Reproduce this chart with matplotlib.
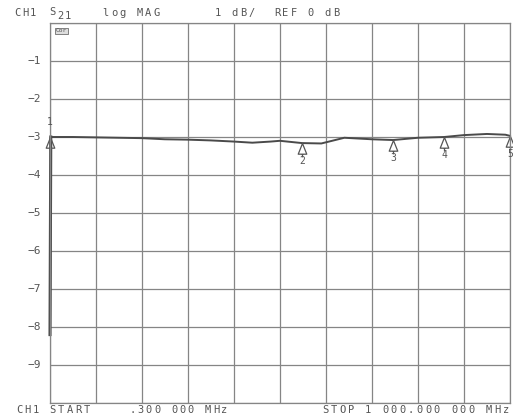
import numpy as np
import matplotlib.pyplot as plt
from matplotlib.path import Path

# trace (MHz, dB)
freq_mhz = [0.3, 2, 50, 100, 150, 200, 250, 300, 350, 400, 440, 480, 500,
            548, 590, 640, 700, 746, 800, 857, 900, 950, 990, 1000]
s21_db = [-8.2, -3.0, -3.0, -3.01, -3.02, -3.03, -3.06, -3.07, -3.09, -3.12,
          -3.15, -3.12, -3.10, -3.16, -3.17, -3.02, -3.06, -3.08, -3.02,
          -3.0, -2.95, -2.92, -2.94, -2.97]
marker_freq = [0.3, 548, 746, 857, 1000]
marker_db = [-3.0, -3.16, -3.08, -3.0, -2.97]
marker_num = ['1', '2', '3', '4', '5']
y_ticks = [-1, -2, -3, -4, -5, -6, -7, -8, -9]

ink = '#555555'
mono = 'DejaVu Sans Mono'

fig = plt.figure(figsize=(5.13, 4.19), dpi=100)
ax = fig.add_axes([50 / 513, 16 / 419, 460 / 513, 380 / 419])


def plot_text(x_px, y_px, s, step=8.4, size=7.5, align='left'):
    # plotter font: fixed, wide character pitch
    if align == 'right':
        x_px = x_px - step * len(s)
    for i, ch in enumerate(s):
        if ch != ' ':
            fig.text((x_px + i * step + step / 2) / 513, 1 - y_px / 419, ch,
                     fontsize=size, color=ink, family=mono, ha='center', va='center')


ax.set_xlim(0.3, 1000)
ax.set_ylim(-10, 0)
ax.set_xticks(np.linspace(0.3, 1000, 11))
ax.set_yticks(np.arange(-10, 1, 1))
ax.grid(True, color='#858585', linewidth=0.9)
ax.tick_params(length=0, labelbottom=False, labelleft=False)
for sp in ax.spines.values():
    sp.set_color('#858585')
    sp.set_linewidth(0.9)

for v in y_ticks:
    ax.text(-0.02, v, '\u2212' + str(abs(v)), transform=ax.get_yaxis_transform(),
            ha='right', va='center', fontsize=8, color=ink, family=mono)

ax.plot(freq_mhz, s21_db, color='#4a4a4a', linewidth=1.4, clip_on=False)
ax.plot(freq_mhz[:2], s21_db[:2], color='#4a4a4a', linewidth=2.2, clip_on=False)

# marker symbol: open triangle with apex on the trace and a short stem
tri = Path([(0, 0), (-0.4, -1.0), (0.4, -1.0), (0, 0), (0, -1.0), (0, -1.3)],
           [Path.MOVETO, Path.LINETO, Path.LINETO, Path.CLOSEPOLY, Path.MOVETO, Path.LINETO])
ax.plot(marker_freq, marker_db, linestyle='none', marker=tri, markersize=20,
        markerfacecolor='none', markeredgecolor=ink, markeredgewidth=0.9, clip_on=False)
for f, d, n in zip(marker_freq, marker_db, marker_num):
    dy = 11 if n == '1' else -13
    ax.annotate(n, (f, d), xytext=(0, dy), textcoords='offset points',
                ha='center', va='center', fontsize=7, color=ink, family=mono)

# header and footer annotations
plot_text(14, 13, 'CH1', step=7.6)
plot_text(48, 12, 'S', step=8)
plot_text(56, 16, '21', step=8)
plot_text(101, 13, 'log MAG', step=8.6)
plot_text(214, 13, '1 dB/  REF 0 dB', step=8.4)
fig.text(56 / 513, 1 - 31 / 419, 'Cor', fontsize=4.5, color=ink, family=mono, va='center',
         bbox=dict(boxstyle='square,pad=0.15', fc='#dddddd', ec=ink, lw=0.5))
plot_text(15, 410, 'CH1 START')
plot_text(128, 410, '.300 000 MHz')
plot_text(510, 410, 'STOP 1 000.000 000 MHz', align='right', step=8.6)

fig.savefig('out.png', dpi=100)
